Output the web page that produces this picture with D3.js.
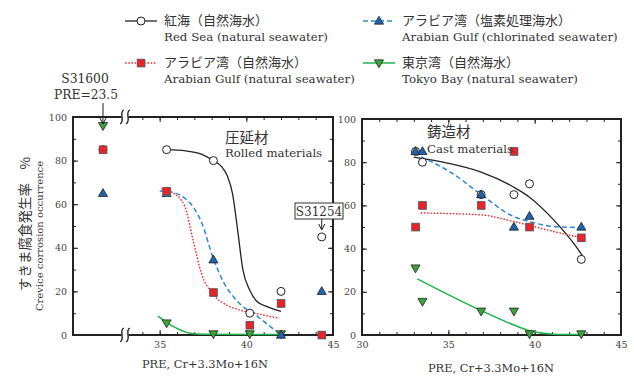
<!DOCTYPE html>
<html>
<head>
<meta charset="utf-8">
<script src="https://d3js.org/d3.v7.min.js"></script>
<style>
    body { margin: 0; background: #fff; }
    text { font-family: "DejaVu Serif", "Liberation Serif", serif; fill: #333; }
    .jp { font-family: "Noto Sans CJK JP", sans-serif; }
    .tick text { font-family: "DejaVu Serif", serif; font-size: 9.5px; fill: #444; }
    .tick line { stroke: #222; stroke-width: 1; }
</style>
</head>
<body>
<svg id="chart" width="634" height="376"></svg>
<script>
// rolled materials (left panel); 23.5 is S31600, drawn left of the axis break
var rolledPRE     = [23.5, 35.4, 38.1, 40.2, 42.0, 44.35];
var rolledRedSea  = [85, 85, 80, 10, 20, 45];
var rolledArabNat = [85, 66, 19.5, 4.5, 14.5, 0];
var rolledArabCl  = [65, 65, 34.5, null, 0, 20];
var rolledTokyo   = [96, 5.5, 0.5, 0.5, 0.5, null];

// cast materials (right panel)
var castPRE     = [33.1, 33.5, 36.9, 38.8, 39.7, 42.7];
var castRedSea  = [85, 80, 65, 65, 70, 35];
var castArabNat = [50, 60, 60, 85, 50, 45];
var castArabCl  = [85, 85, 65, 50, 55, 50];
var castTokyo   = [31, 15.5, 11, 11, 0.5, 0.5];

// fitted curves
var rolledRedSeaFit  = [[35.4, 85], [36.5, 84.5], [37.4, 83], [38.1, 80], [38.6, 77], [38.9, 73], [39.2, 65], [39.5, 48], [39.8, 30], [40.2, 20.5], [40.6, 15.5], [41.2, 13], [42, 10.8]];
var rolledArabNatFit = [[35.1, 67], [35.8, 65], [36.45, 59], [36.94, 43], [37.4, 28.5], [38.1, 18.5], [38.8, 14], [39.6, 11.5], [40.5, 10], [41.9, 7.6]];
var rolledArabClFit  = [[35.0, 66], [35.7, 65.5], [36.4, 63], [37.0, 58], [37.4, 52], [38.1, 35], [38.7, 24], [39.25, 17.6], [39.8, 13], [40.4, 10], [41.2, 5], [42, 0]];
var rolledTokyoFit   = [[34.9, 8.7], [35.8, 3.8], [36.75, 0.8], [37.5, 0.3], [42, 0.2]];

var castRedSeaFit  = [[33.0, 82.3], [35, 79.5], [36.9, 75.4], [38.8, 68.4], [39.7, 63.8], [41.1, 53.3], [42.25, 42.5], [42.8, 36.3]];
var castArabNatFit = [[33.4, 56.5], [36.9, 55.6], [38.8, 52.5], [41.1, 47.9], [42.8, 44.9]];
var castArabClFit  = [[33.0, 84], [35.3, 74.5], [36.9, 65], [38.8, 54.8], [39.7, 52.5], [41.1, 50.2], [42.8, 49.7]];
var castTokyoFit   = [[33.2, 26], [36.9, 11.3], [38.8, 4.6], [39.7, 2], [41.1, 0.4], [42.7, 0.2]];

var yTicks = [0, 20, 40, 60, 80, 100];
var yMinor = d3.range(0, 101, 10);

var svg = d3.select("#chart");
svg.append("rect").attr("width", 634).attr("height", 376).attr("fill", "#fff");

var series = [
    { key: "redSea", jp: "紅海（自然海水）", en: "Red Sea (natural seawater)", color: "#222", dash: null, width: 1.3 },
    { key: "arabNat", jp: "アラビア湾（自然海水）", en: "Arabian Gulf (natural seawater)", color: "#ee2a2f", dash: "1.6,1.6", width: 1.4 },
    { key: "arabCl", jp: "アラビア湾（塩素処理海水）", en: "Arabian Gulf (chlorinated seawater)", color: "#2f86d0", dash: "5,3", width: 1.5 },
    { key: "tokyo", jp: "東京湾（自然海水）", en: "Tokyo Bay (natural seawater)", color: "#1fb34d", dash: null, width: 1.5 }
];

function marker(g, key, x, y) {
    if (key === "redSea") {
        g.append("circle").attr("cx", x).attr("cy", y).attr("r", 4)
            .attr("fill", "#fff").attr("stroke", "#222").attr("stroke-width", 1);
    } else if (key === "arabNat") {
        g.append("rect").attr("x", x - 3.3).attr("y", y - 3.3).attr("width", 7.6).attr("height", 7.6).attr("fill", "#999");
        g.append("rect").attr("x", x - 3.8).attr("y", y - 3.8).attr("width", 7.6).attr("height", 7.6)
            .attr("fill", "#e8232a").attr("stroke", "#555").attr("stroke-width", 0.8);
    } else if (key === "arabCl") {
        g.append("path").attr("d", d3.symbol(d3.symbolTriangle, 36)())
            .attr("transform", "translate(" + x + "," + (y + 0.5) + ")")
            .attr("fill", "#1f62ad").attr("stroke", "#222").attr("stroke-width", 0.8);
    } else {
        g.append("path").attr("d", d3.symbol(d3.symbolTriangle, 36)())
            .attr("transform", "translate(" + x + "," + (y - 0.5) + ") rotate(180)")
            .attr("fill", "#3ca33a").attr("stroke", "#222").attr("stroke-width", 0.8);
    }
}

function drawPanel(x, y, pre, vals, fits) {
    var g = svg.append("g");
    var line = d3.line().x(function (d) { return x(d[0]); }).y(function (d) { return y(d[1]); })
        .curve(d3.curveMonotoneX);
    series.forEach(function (s) {
        g.append("path").attr("d", line(fits[s.key])).attr("fill", "none")
            .attr("stroke", s.color).attr("stroke-width", s.width)
            .attr("stroke-dasharray", s.dash);
    });
    ["redSea", "tokyo", "arabCl", "arabNat"].forEach(function (k) {
        vals[k].forEach(function (v, i) {
            if (v === null) return;
            marker(g, k, x(pre[i]), y(v));
        });
    });
}

function axes(x, y, xMinor, xMajor, labelLeft) {
    var x0 = x.range()[0], x1 = x.range()[x.range().length - 1];
    var y0 = y.range()[0], y1 = y.range()[1];
    var g = svg.append("g");
    g.append("g").attr("transform", "translate(0," + y0 + ")")
        .call(d3.axisBottom(x).tickValues(xMinor).tickSize(-3).tickFormat(""));
    g.append("g").attr("transform", "translate(0," + y0 + ")")
        .call(d3.axisBottom(x).tickValues(xMajor).tickSize(-5).tickPadding(6).tickFormat(d3.format("d")));
    g.append("g").attr("transform", "translate(0," + y1 + ")")
        .call(d3.axisTop(x).tickValues(xMinor).tickSize(-3).tickFormat(""));
    g.append("g").attr("transform", "translate(0," + y1 + ")")
        .call(d3.axisTop(x).tickValues(xMajor).tickSize(-5).tickFormat(""));
    g.append("g").attr("transform", "translate(" + x0 + ",0)")
        .call(d3.axisLeft(y).tickValues(yMinor).tickSize(-3).tickFormat(""));
    g.append("g").attr("transform", "translate(" + x0 + ",0)")
        .call(d3.axisLeft(y).tickValues(yTicks).tickSize(-5).tickPadding(labelLeft))
    g.append("g").attr("transform", "translate(" + x1 + ",0)")
        .call(d3.axisRight(y).tickValues(yMinor).tickSize(-3).tickFormat(""));
    g.append("g").attr("transform", "translate(" + x1 + ",0)")
        .call(d3.axisRight(y).tickValues(yTicks).tickSize(-5).tickFormat(""));
    g.selectAll(".domain").remove();
    g.append("rect").attr("x", x0).attr("y", y1).attr("width", x1 - x0).attr("height", y0 - y1)
        .attr("fill", "none").attr("stroke", "#222").attr("stroke-width", 2);
    return g;
}

// left panel: broken x axis (S31600 sits left of the break)
var xL = d3.scaleLinear().domain([21.77, 24.77, 33, 45]).range([73, 125, 125, 333]);
var yL = d3.scaleLinear().domain([0, 100]).range([335, 117]);
var xR = d3.scaleLinear().domain([30, 45]).range([362, 621]);
var yR = d3.scaleLinear().domain([0, 100]).range([335, 119]);

axes(xL, yL, d3.range(34, 46), [35, 40, 45], 6);
axes(xR, yR, d3.range(30, 46), [30, 35, 40, 45], 6);

drawPanel(xL, yL, rolledPRE,
    { redSea: rolledRedSea, arabNat: rolledArabNat, arabCl: rolledArabCl, tokyo: rolledTokyo },
    { redSea: rolledRedSeaFit, arabNat: rolledArabNatFit, arabCl: rolledArabClFit, tokyo: rolledTokyoFit });
drawPanel(xR, yR, castPRE,
    { redSea: castRedSea, arabNat: castArabNat, arabCl: castArabCl, tokyo: castTokyo },
    { redSea: castRedSeaFit, arabNat: castArabNatFit, arabCl: castArabClFit, tokyo: castTokyoFit });

// axis break marks
[yL(100), yL(0)].forEach(function (yy) {
    var bx = xL(33);
    svg.append("rect").attr("x", bx - 3.5).attr("y", yy - 2).attr("width", 7).attr("height", 4).attr("fill", "#fff");
    [bx - 3, bx + 3].forEach(function (sx) {
        svg.append("path")
            .attr("d", "M" + (sx + 1.8) + "," + (yy - 7) + " C" + (sx - 3.5) + "," + (yy - 4) + " " + (sx + 3.5) + "," + (yy + 3) + " " + (sx - 1.8) + "," + (yy + 7))
            .attr("fill", "none").attr("stroke", "#222").attr("stroke-width", 1.4);
    });
});

// annotations
function arrow(ax, ya, yb) {
    svg.append("path").attr("d", "M" + ax + "," + ya + " V" + yb + " M" + (ax - 3) + "," + (yb - 6) + " L" + ax + "," + yb + " L" + (ax + 3) + "," + (yb - 6))
        .attr("fill", "none").attr("stroke", "#222").attr("stroke-width", 1);
}
svg.append("text").attr("x", 85).attr("y", 83).attr("text-anchor", "middle").style("font-size", "12.3px").text("S31600");
svg.append("text").attr("x", 86).attr("y", 99).attr("text-anchor", "middle").style("font-size", "12.3px").text("PRE=23.5");
arrow(xL(23.5), 103, 124);

svg.append("rect").attr("x", 295).attr("y", 203).attr("width", 48).attr("height", 16)
    .attr("fill", "#fff").attr("stroke", "#333").attr("stroke-width", 1);
svg.append("text").attr("x", 319).attr("y", 216).attr("text-anchor", "middle").style("font-size", "12px").text("S31254");
arrow(xL(44.35), 219, 230);

svg.append("text").attr("class", "jp").attr("x", 225).attr("y", 143).style("font-size", "14.5px").text("圧延材");
svg.append("text").attr("x", 225).attr("y", 157).style("font-size", "11.7px").text("Rolled materials");
svg.append("text").attr("class", "jp").attr("x", 427).attr("y", 137).style("font-size", "14.5px").text("鋳造材");
svg.append("text").attr("x", 427).attr("y", 153).style("font-size", "11.7px").text("Cast materials");

// axis titles
svg.append("text").attr("x", 205).attr("y", 368).attr("text-anchor", "middle").style("font-size", "11.4px").text("PRE, Cr+3.3Mo+16N");
svg.append("text").attr("x", 491).attr("y", 372).attr("text-anchor", "middle").style("font-size", "11.4px").text("PRE, Cr+3.3Mo+16N");
svg.append("text").attr("class", "jp").attr("transform", "translate(30,224) rotate(-90)")
    .attr("text-anchor", "middle").style("font-size", "13.5px").text("すきま腐食発生率　%");
svg.append("text").attr("transform", "translate(43,236) rotate(-90)")
    .attr("text-anchor", "middle").style("font-size", "10px").text("Crevice corrosion occurrence");

// legend
var legendPos = [[125, 21], [125, 63], [363, 21], [363, 63]];
series.forEach(function (s, i) {
    var lx = legendPos[i][0], ly = legendPos[i][1];
    var g = svg.append("g");
    g.append("line").attr("x1", lx).attr("x2", lx + 32).attr("y1", ly).attr("y2", ly)
        .attr("stroke", s.color).attr("stroke-width", s.width).attr("stroke-dasharray", s.dash);
    marker(g, s.key, lx + 16, ly);
    g.append("text").attr("class", "jp").attr("x", lx + 39).attr("y", ly + 4).style("font-size", "13px").text(s.jp);
    g.append("text").attr("x", lx + 39).attr("y", ly + 20).style("font-size", "11.8px").text(s.en);
});
</script>
</body>
</html>
